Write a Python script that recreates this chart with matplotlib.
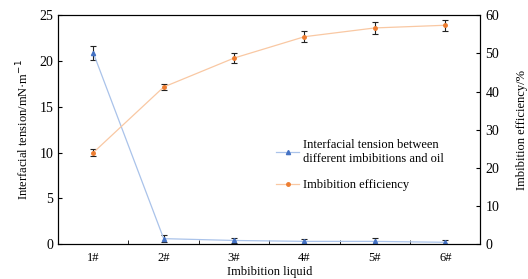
import matplotlib.pyplot as plt
from matplotlib.lines import Line2D
from matplotlib.ticker import FixedLocator

plt.rcParams['font.family'] = ['Liberation Serif', 'DejaVu Serif']
plt.rcParams['font.size'] = 9

# imbibition liquids 1# .. 6#
liquids = ['1#', '2#', '3#', '4#', '5#', '6#']
ift = [20.9, 0.6, 0.4, 0.3, 0.3, 0.2]
ift_err = [0.8, 0.4, 0.3, 0.3, 0.4, 0.3]
eff = [24.0, 41.2, 48.8, 54.4, 56.7, 57.4]
eff_err = [0.9, 0.7, 1.2, 1.5, 1.5, 1.5]

x = list(range(1, len(liquids) + 1))

blue_line, blue_mk = '#aac3ea', '#4472c4'
orange_line, orange_mk = '#f9c8a3', '#ed7d31'

fig, ax = plt.subplots(figsize=(5.28, 2.79), dpi=100)
fig.subplots_adjust(left=0.11, right=0.91, top=0.945, bottom=0.125)
ax2 = ax.twinx()

ax.errorbar(x, ift, yerr=ift_err, color=blue_line, lw=0.9,
            marker='^', ms=3, mfc=blue_mk, mec=blue_mk,
            ecolor='#222222', elinewidth=0.8, capsize=2.5, capthick=0.8)
ax2.errorbar(x, eff, yerr=eff_err, color=orange_line, lw=0.9,
             marker='o', ms=2.5, mfc=orange_mk, mec=orange_mk,
             ecolor='#222222', elinewidth=0.8, capsize=2.5, capthick=0.8)

ax.set_xlim(0.5, 6.5)
ax.set_ylim(0, 25)
ax2.set_ylim(0, 60)
ax.set_xticks(x)
ax.set_xticklabels(liquids)
ax.xaxis.set_minor_locator(FixedLocator([1.5, 2.5, 3.5, 4.5, 5.5]))
ax.tick_params(axis='x', which='major', length=0, pad=6)
ax.tick_params(axis='x', which='minor', direction='in', length=3)
ax.tick_params(axis='y', direction='in', length=3, labelsize=10)
ax2.tick_params(axis='y', direction='in', length=3, labelsize=10)
ax.tick_params(axis='x', labelsize=9)
ax.set_yticks([0, 5, 10, 15, 20, 25])
ax2.set_yticks([0, 10, 20, 30, 40, 50, 60])

ax.set_xlabel('Imbibition liquid', labelpad=1)
ax.set_ylabel('Interfacial tension/mN·m$^{-1}$', labelpad=6)
ax2.set_ylabel('Imbibition efficiency/%', labelpad=12)

handles = [
    Line2D([], [], color=blue_line, lw=0.9, marker='^', ms=3, mfc=blue_mk, mec=blue_mk),
    Line2D([], [], color=orange_line, lw=0.9, marker='o', ms=2.5, mfc=orange_mk, mec=orange_mk),
]
labels = ['Interfacial tension between\ndifferent imbibitions and oil', 'Imbibition efficiency']
ax.legend(handles, labels, loc='center left', bbox_to_anchor=(0.49, 0.345),
          frameon=False, handlelength=1.8, labelspacing=1.1, handletextpad=0.3)

plt.savefig('out.png', dpi=100)
